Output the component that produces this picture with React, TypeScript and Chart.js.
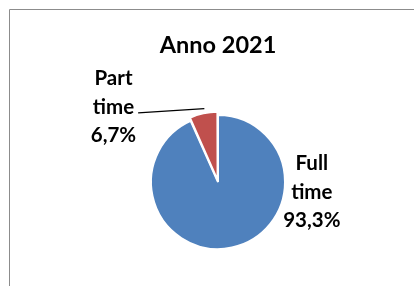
import React, { useEffect, useRef } from "react";
import { Chart, registerables } from "chart.js";

Chart.register(...registerables);

const chartTitle = "Anno 2021";
const categories = ["Full time", "Part time"];
const values = [93.3, 6.7];
const percentLabels = ["93,3%", "6,7%"];
const sliceColors = ["#4F81BD", "#C0504D"];
const sliceOffsets = [0, 8];

// label placement relative to pie centre, in radius units
const labelPlacement = [
  { dx: 1.40, dy: 0.15, leader: false },
  { dx: -1.56, dy: -1.12, leader: true },
];

const FONT = "Lato, 'Open Sans', sans-serif";

const borderPlugin = {
  id: "frameBorder",
  beforeDraw(chart: any) {
    const ctx = chart.ctx;
    ctx.save();
    ctx.strokeStyle = "#8c8c8c";
    ctx.lineWidth = 1;
    ctx.beginPath();
    ctx.moveTo(9.5, chart.height);
    ctx.lineTo(9.5, 9.5);
    ctx.lineTo(chart.width, 9.5);
    ctx.stroke();
    ctx.restore();
  },
};

const labelPlugin = {
  id: "pieLabels",
  afterDatasetsDraw(chart: any) {
    const ctx = chart.ctx;
    const meta = chart.getDatasetMeta(0);
    const lineGap = 28.5;
    ctx.save();
    ctx.font = `bold 20.5px ${FONT}`;
    ctx.fillStyle = "#000";
    ctx.textAlign = "center";
    ctx.textBaseline = "middle";
    meta.data.forEach((arc: any, i: number) => {
      const p = arc.getProps(["x", "y", "startAngle", "endAngle", "outerRadius"], true);
      const place = labelPlacement[i];
      const cx = p.x + place.dx * p.outerRadius;
      const cy = p.y + place.dy * p.outerRadius;
      const lines = [...categories[i].split(" "), percentLabels[i]];
      const startY = cy - ((lines.length - 1) * lineGap) / 2;
      lines.forEach((t, k) => ctx.fillText(t, cx, startY + k * lineGap));
      if (place.leader) {
        const mid = (p.startAngle + p.endAngle) / 2;
        const off = sliceOffsets[i];
        const ex = p.x + Math.cos(mid) * (p.outerRadius + off) + 2;
        const ey = p.y + Math.sin(mid) * (p.outerRadius + off);
        const w = ctx.measureText(lines[1]).width;
        const sx = cx + w / 2 + 4;
        const sy = startY + lineGap + 6;
        ctx.strokeStyle = "#000";
        ctx.lineWidth = 1.2;
        ctx.beginPath();
        ctx.moveTo(sx, sy);
        ctx.lineTo(ex, ey);
        ctx.stroke();
      }
    });
    ctx.restore();
  },
};

export default function App() {
  const ref = useRef<HTMLCanvasElement | null>(null);
  useEffect(() => {
    if (!ref.current) return;
    const chart = new Chart(ref.current, {
      type: "pie",
      data: {
        labels: categories,
        datasets: [
          {
            data: values,
            backgroundColor: sliceColors,
            borderColor: "#ffffff",
            borderWidth: 2,
            offset: sliceOffsets,
            radius: 67,
          } as any,
        ],
      },
      options: {
        responsive: false,
        animation: false,
        layout: { padding: { left: 22, right: 0, top: 19, bottom: 6 } },
        plugins: {
          legend: { display: false },
          tooltip: { enabled: false },
          title: {
            display: true,
            text: chartTitle,
            color: "#000",
            font: { family: FONT, weight: "bold", size: 23.5, lineHeight: 1.2 },
            padding: { top: 12, bottom: 24.8 },
          },
        },
      },
      plugins: [borderPlugin, labelPlugin],
    });
    return () => chart.destroy();
  }, []);
  return (
    <div style={{ position: "fixed", left: 0, top: 0, width: 414, height: 286, background: "#fff" }}>
      <canvas ref={ref} width={414} height={286} style={{ display: "block" }} />
    </div>
  );
}
